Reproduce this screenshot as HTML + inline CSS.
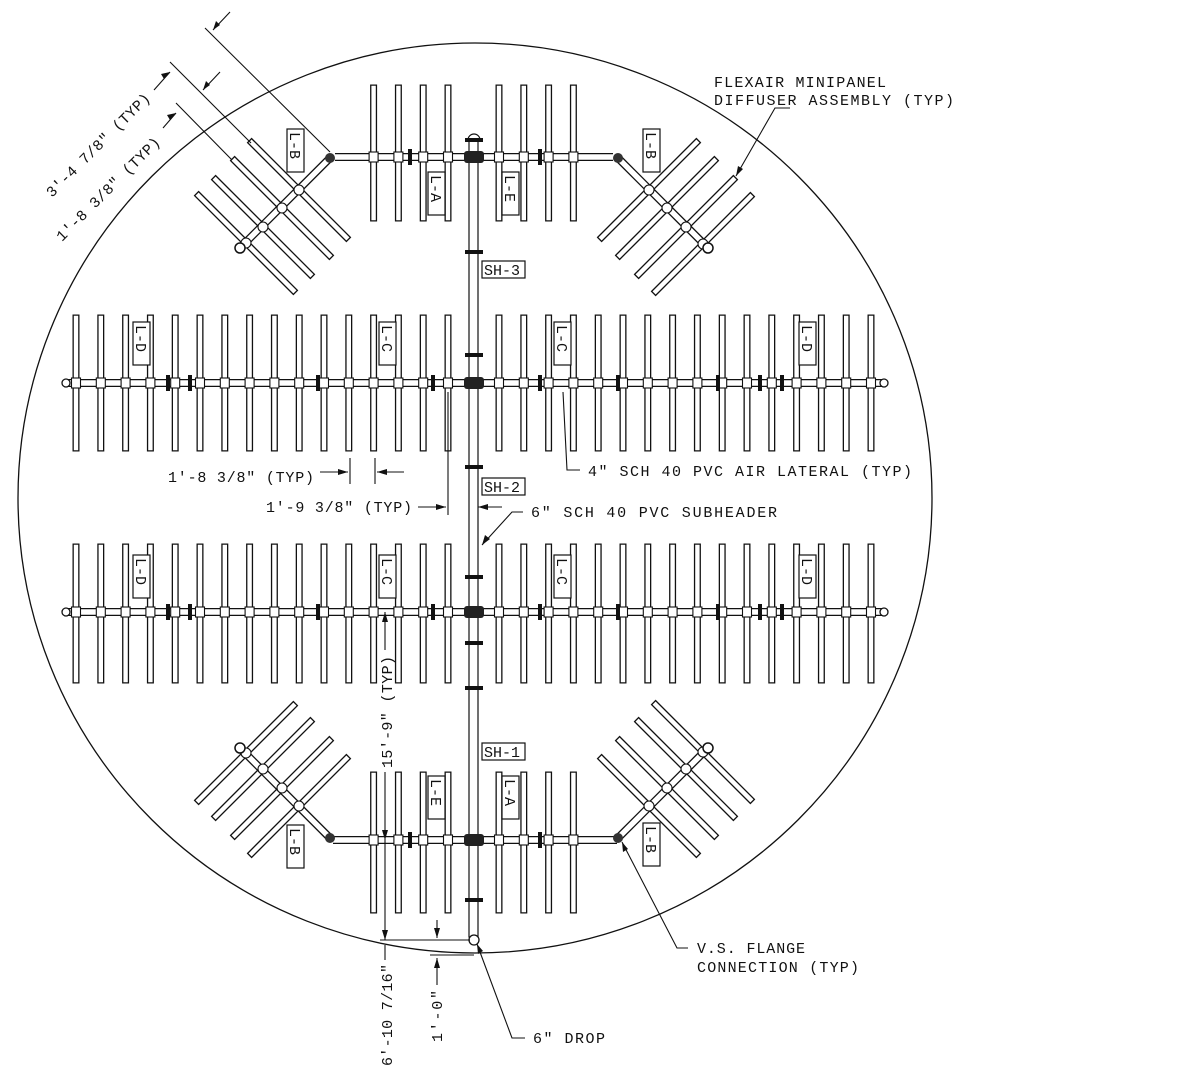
<!DOCTYPE html>
<html><head><meta charset="utf-8"><style>
html,body{margin:0;padding:0;background:#fff;width:1200px;height:1092px;overflow:hidden}
svg{display:block}
text{font-family:"Liberation Mono",monospace;font-size:15px;fill:#111}
</style></head><body>
<svg id="s" width="1200" height="1092" viewBox="0 0 1200 1092" xmlns="http://www.w3.org/2000/svg">
<rect width="1200" height="1092" fill="#fff"/>
<ellipse cx="475" cy="498" rx="457" ry="455" fill="none" stroke="#111" stroke-width="1.3"/>
<g id="g"></g>
<g fill="#fff" stroke="#111" stroke-width="1.2">
<rect x="287" y="129" width="17" height="43"/><rect x="643" y="129" width="17" height="43"/>
<rect x="428" y="172" width="17" height="43"/><rect x="502" y="172" width="17" height="43"/>
<rect x="133" y="322" width="17" height="43"/><rect x="379" y="322" width="17" height="43"/>
<rect x="554" y="322" width="17" height="43"/><rect x="799" y="322" width="17" height="43"/>
<rect x="133" y="555" width="17" height="43"/><rect x="379" y="555" width="17" height="43"/>
<rect x="554" y="555" width="17" height="43"/><rect x="799" y="555" width="17" height="43"/>
<rect x="428" y="776" width="17" height="43"/><rect x="502" y="776" width="17" height="43"/>
<rect x="287" y="825" width="17" height="43"/><rect x="643" y="823" width="17" height="43"/>
<rect x="482" y="261" width="43" height="17"/><rect x="482" y="478" width="43" height="17"/><rect x="482" y="743" width="43" height="17"/>
</g>
<g>
<text transform="translate(290,132) rotate(90)">L-B</text>
<text transform="translate(646,132) rotate(90)">L-B</text>
<text transform="translate(431,175) rotate(90)">L-A</text>
<text transform="translate(505,175) rotate(90)">L-E</text>
<text transform="translate(136,325) rotate(90)">L-D</text>
<text transform="translate(382,325) rotate(90)">L-C</text>
<text transform="translate(557,325) rotate(90)">L-C</text>
<text transform="translate(802,325) rotate(90)">L-D</text>
<text transform="translate(136,558) rotate(90)">L-D</text>
<text transform="translate(382,558) rotate(90)">L-C</text>
<text transform="translate(557,558) rotate(90)">L-C</text>
<text transform="translate(802,558) rotate(90)">L-D</text>
<text transform="translate(431,779) rotate(90)">L-E</text>
<text transform="translate(505,779) rotate(90)">L-A</text>
<text transform="translate(290,828) rotate(90)">L-B</text>
<text transform="translate(646,826) rotate(90)">L-B</text>
<text x="484" y="275">SH-3</text>
<text x="484" y="492">SH-2</text>
<text x="484" y="757">SH-1</text>

<text x="714" y="87" textLength="172">FLEXAIR MINIPANEL</text>
<text x="714" y="105" textLength="240">DIFFUSER ASSEMBLY (TYP)</text>
<text x="168" y="482" textLength="146">1'-8 3/8" (TYP)</text>
<text x="266" y="512" textLength="146">1'-9 3/8" (TYP)</text>
<text x="588" y="476" textLength="324">4" SCH 40 PVC AIR LATERAL (TYP)</text>
<text x="531" y="517" textLength="246">6" SCH 40 PVC SUBHEADER</text>
<text x="697" y="953" textLength="108">V.S. FLANGE</text>
<text x="697" y="972" textLength="162">CONNECTION (TYP)</text>
<text x="533" y="1043" textLength="72">6" DROP</text>
<text transform="translate(392,768) rotate(-90)" textLength="112">15'-9" (TYP)</text>
<text transform="translate(392,1066) rotate(-90)" textLength="102">6'-10 7/16"</text>
<text transform="translate(442,1042) rotate(-90)" textLength="52">1'-0"</text>
<text transform="translate(52,198) rotate(-45)" textLength="140">3'-4 7/8" (TYP)</text>
<text transform="translate(62,242) rotate(-45)" textLength="140">1'-8 3/8" (TYP)</text>
</g>
<g stroke="#111" stroke-width="1.1" fill="none">
<path d="M205,28 L330,152 M170,62 L251,143 M176,103 L232,160"/>
<path d="M230,12 L213,30 M220,72 L203,90"/>
<path d="M154,90 L170,72 M163,128 L176,113"/>
<path d="M320,472 L348,472 M350,458 L350,484 M375,458 L375,484 M377,472 L404,472"/>
<path d="M418,507 L446,507 M448,392 L448,515 M478,507 L502,507"/>
<path d="M563,392 L567,470 L580,470"/>
<path d="M523,512 L512,512 L482,545"/>
<path d="M688,948 L677,948 L622,842"/>
<path d="M525,1038 L512,1038 L477,944"/>
<path d="M385,612 L385,650 M385,772 L385,940 M380,940 L470,940 M437,920 L437,938 M430,955 L474,955 M437,958 L437,985 M385,945 L385,960"/>
<path d="M790,108 L775,108 L736,176"/>
</g>
<g fill="#111">
<path d="M348,472 l-10,-3 l0,6z M377,472 l10,-3 l0,6z M446,507 l-10,-3 l0,6z M478,507 l10,-3 l0,6z"/>
<path d="M482,545 l3,-10 l5,4z M736,176 l2,-10 l5,3z M622,842 l6,7 l-5,3z M477,944 l6,7 l-5,3z"/>
<path d="M385,612 l-3,10 l6,0z M385,840 l-3,-10 l6,0z M385,940 l-3,-10 l6,0z M437,938 l-3,-10 l6,0z M437,958 l-3,10 l6,0z"/>
<path d="M170,72 l-9,2 l3,5z M176,113 l-9,2 l3,5z M213,30 l3,-9 l4,4z M203,90 l3,-9 l4,4z"/>
</g>
</svg>
<script>
var o='';
function ln(x1,y1,x2,y2,w,c,cap){o+='<line x1="'+x1+'" y1="'+y1+'" x2="'+x2+'" y2="'+y2+'" stroke="'+c+'" stroke-width="'+w+'" stroke-linecap="'+(cap||'butt')+'"/>';}
function panel(x1,y1,x2,y2){ln(x1,y1,x2,y2,7,'#111','square');ln(x1,y1,x2,y2,4.4,'#fff','square');}
function pipe(x1,y1,x2,y2){ln(x1,y1,x2,y2,8,'#111');ln(x1,y1,x2,y2,5.4,'#fff');}
function coup(x,y){o+='<rect x="'+(x-4.5)+'" y="'+(y-5)+'" width="9" height="10" fill="#fff" stroke="#111" stroke-width="1.1"/>';}
function fl(x,y){o+='<rect x="'+(x-2)+'" y="'+(y-8)+'" width="4" height="16" fill="#111"/>';}
function hfl(x,y){o+='<rect x="'+(x-9)+'" y="'+(y-2)+'" width="18" height="4" fill="#111"/>';}
var L=[],R=[];for(var i=0;i<16;i++){L.push(76+24.8*i);R.push(499+24.8*i);}
var all=L.concat(R);
function row(y1,y2,yl,xa,xb,xs){
 xs.forEach(function(x){panel(x,y1,x,y2);});
 pipe(xa,yl,xb,yl);
 xs.forEach(function(x){coup(x,yl);});
}
row(318,448,383,66,884,all);
row(547,680,612,66,884,all);
var tx=L.slice(12).concat(R.slice(0,4));
row(88,218,157,335,613,tx);
row(775,910,840,333,617,tx);
[[66,383],[884,383],[66,612],[884,612]].forEach(function(p){o+='<circle cx="'+p[0]+'" cy="'+p[1]+'" r="4" fill="#fff" stroke="#111" stroke-width="1.3"/>';});
[168,190,318,433,540,618,718,760,782].forEach(function(x){fl(x,383);fl(x,612);});
[410,540].forEach(function(x){fl(x,157);fl(x,840);});
var h=67/Math.SQRT2;
function wing(e,end,cs,dx,dy){
 cs.forEach(function(c){panel(c[0]-h*dx,c[1]-h*dy,c[0]+h*dx,c[1]+h*dy);});
 pipe(e[0],e[1],end[0],end[1]);
 cs.forEach(function(c){o+='<circle cx="'+c[0]+'" cy="'+c[1]+'" r="5" fill="#fff" stroke="#111" stroke-width="1.1"/>';});
 o+='<circle cx="'+e[0]+'" cy="'+e[1]+'" r="5" fill="#333"/>';
 o+='<circle cx="'+end[0]+'" cy="'+end[1]+'" r="5" fill="#fff" stroke="#111" stroke-width="1.5"/>';
}
wing([330,158],[240,248],[[299,190],[282,208],[263,227],[246,243]],1,1);
wing([618,158],[708,248],[[649,190],[667,208],[686,227],[703,244]],1,-1);
wing([330,838],[240,748],[[299,806],[282,788],[263,769],[246,753]],1,-1);
wing([618,838],[708,748],[[649,806],[667,788],[686,769],[703,752]],1,1);
o+='<rect x="469" y="140" width="9" height="797" fill="#fff" stroke="#111" stroke-width="1.2"/>';
o+='<path d="M468,140 a6,6 0 0 1 12,0z" fill="#fff" stroke="#111" stroke-width="1.2"/>';
o+='<circle cx="474" cy="940" r="5" fill="#fff" stroke="#111" stroke-width="1.3"/>';
[140,252,355,467,577,643,688,900].forEach(function(y){hfl(474,y);});
[157,383,612,840].forEach(function(y){o+='<rect x="464" y="'+(y-6)+'" width="20" height="12" rx="3" fill="#222"/>';});
document.getElementById('g').insertAdjacentHTML('beforeend',o);
</script>
</body></html>
